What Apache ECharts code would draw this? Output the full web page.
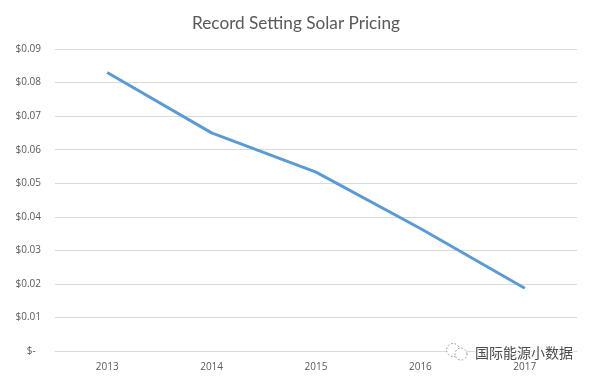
<!DOCTYPE html>
<html><head><meta charset="utf-8"><style>html,body{margin:0;padding:0;background:#fff}#c{width:608px;height:389px}</style>
<script src="https://cdn.jsdelivr.net/npm/echarts@6/dist/echarts.min.js"></script></head>
<body><div id="c"></div><script>
const categories=['2013','2014','2015','2016','2017'];
const prices=[0.083,0.065,0.0533,0.0365,0.0187];
const yTicks=['$-  ','$0.01','$0.02','$0.03','$0.04','$0.05','$0.06','$0.07','$0.08','$0.09'];
const chart=echarts.init(document.getElementById('c'));
const dash={fill:'#fff',stroke:'#8a8a8a',lineWidth:1,lineDash:[1.5,2]};
chart.setOption({animation:false,
title:{text:'Record Setting Solar Pricing',left:291,top:10,textAlign:'center',textStyle:{fontFamily:'Lato',fontSize:17.2,fontWeight:'normal',color:'#595959'}},
grid:{left:55,right:31,top:49,bottom:38},
xAxis:{type:'category',data:categories,axisTick:{show:false},axisLine:{lineStyle:{color:'#d9d9d9'}},axisLabel:{color:'#595959',fontSize:10,fontFamily:'Open Sans',margin:11}},
yAxis:{type:'value',min:0,max:0.09,interval:0.01,axisLine:{show:false},axisTick:{show:false},splitLine:{lineStyle:{color:'#d9d9d9'}},axisLabel:{color:'#595959',fontSize:10,fontFamily:'Open Sans',margin:14,formatter:(v)=>yTicks[Math.round(v*100)]}},
series:[{type:'line',data:prices,showSymbol:false,lineStyle:{color:'#5b9bd5',width:3}}],
graphic:[
{type:'circle',shape:{cx:453,cy:350,r:6.5},style:dash,z:10},
{type:'circle',shape:{cx:461,cy:354,r:6},style:dash,z:11},
{type:'text',left:474,top:345,z:12,style:{text:'国际能源小数据',fill:'#4a4a4a',stroke:'#fff',lineWidth:2,font:'14px "Noto Sans CJK SC"'}}]
});
</script></body></html>
